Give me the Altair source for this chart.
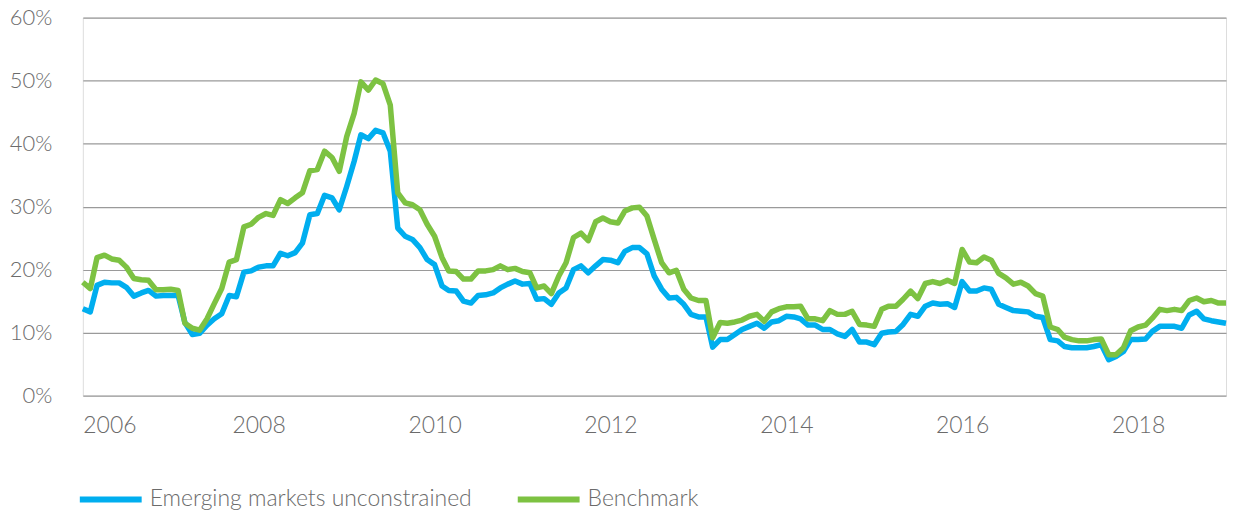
import altair as alt
import pandas as pd

series_names = ["Emerging markets unconstrained", "Benchmark"]
series_colors = ["#00AEEF", "#7DC242"]

start_month = "2006-01-01"
n_months = 157

emerging = [
    13.8, 13.3, 17.5, 18.0, 17.9, 17.9, 17.2, 15.8, 16.3, 16.7,
    15.8, 15.9, 15.9, 15.9, 11.6, 9.7, 9.9, 11.2, 12.2, 13.0,
    15.9, 15.7, 19.6, 19.8, 20.4, 20.6, 20.6, 22.6, 22.2, 22.7,
    24.2, 28.7, 28.9, 31.8, 31.4, 29.5, 33.2, 37.2, 41.4, 40.8,
    42.1, 41.7, 38.8, 26.6, 25.3, 24.8, 23.5, 21.6, 20.8, 17.4,
    16.7, 16.6, 15.0, 14.7, 15.9, 16.0, 16.3, 17.1, 17.7, 18.2,
    17.7, 17.8, 15.3, 15.4, 14.5, 16.3, 17.1, 20.0, 20.6, 19.5,
    20.6, 21.6, 21.5, 21.1, 22.9, 23.5, 23.5, 22.5, 19.0, 16.9,
    15.5, 15.6, 14.5, 12.9, 12.5, 12.5, 7.7, 8.9, 8.9, 9.7,
    10.5, 11.0, 11.5, 10.7, 11.7, 11.9, 12.6, 12.5, 12.2, 11.2,
    11.2, 10.5, 10.5, 9.8, 9.4, 10.5, 8.5, 8.5, 8.1, 9.9,
    10.1, 10.2, 11.3, 12.9, 12.6, 14.2, 14.7, 14.5, 14.6, 14.0,
    18.1, 16.6, 16.6, 17.1, 16.9, 14.5, 14.0, 13.5, 13.4, 13.3,
    12.6, 12.4, 8.9, 8.7, 7.8, 7.6, 7.6, 7.6, 7.8, 8.1,
    5.7, 6.2, 7.0, 8.9, 8.9, 9.0, 10.2, 11.0, 11.0, 11.0,
    10.7, 12.8, 13.4, 12.2, 11.9, 11.7, 11.5,
]

benchmark = [
    18.0, 17.0, 21.9, 22.3, 21.7, 21.5, 20.4, 18.6, 18.4, 18.3,
    16.8, 16.8, 16.9, 16.7, 11.5, 10.7, 10.4, 12.2, 14.6, 17.0,
    21.2, 21.6, 26.8, 27.2, 28.3, 28.9, 28.6, 31.1, 30.5, 31.4,
    32.2, 35.7, 35.9, 38.8, 37.8, 35.6, 41.1, 44.8, 49.8, 48.5,
    50.1, 49.5, 46.1, 32.2, 30.6, 30.3, 29.5, 27.2, 25.3, 21.9,
    19.8, 19.7, 18.5, 18.5, 19.8, 19.8, 20.0, 20.6, 20.0, 20.2,
    19.7, 19.5, 17.1, 17.4, 16.2, 19.0, 21.1, 25.1, 25.8, 24.6,
    27.6, 28.2, 27.6, 27.4, 29.3, 29.8, 29.9, 28.5, 24.8, 21.1,
    19.5, 19.9, 16.9, 15.5, 15.1, 15.1, 9.2, 11.6, 11.5, 11.7,
    12.0, 12.6, 12.9, 11.8, 13.3, 13.8, 14.1, 14.1, 14.2, 12.2,
    12.2, 11.9, 13.5, 12.9, 12.9, 13.4, 11.3, 11.2, 11.0, 13.7,
    14.2, 14.2, 15.3, 16.6, 15.4, 17.8, 18.1, 17.8, 18.3, 17.8,
    23.2, 21.2, 21.1, 22.0, 21.5, 19.4, 18.7, 17.7, 18.0, 17.4,
    16.2, 15.8, 10.9, 10.5, 9.3, 8.9, 8.7, 8.7, 8.9, 9.0,
    6.5, 6.5, 7.6, 10.3, 10.9, 11.2, 12.3, 13.7, 13.5, 13.7,
    13.5, 15.1, 15.5, 14.9, 15.1, 14.7, 14.7,
]

tick_years = ["2006-01-01", "2008-01-01", "2010-01-01", "2012-01-01",
              "2014-01-01", "2016-01-01", "2018-01-01"]
y_ticks = [0, 0.1, 0.2, 0.3, 0.4, 0.5, 0.6]

dates = pd.date_range(start_month, periods=n_months, freq="MS")
rows = []
for d, v in zip(dates, emerging):
    rows.append({"date": d, "value": v / 100, "series": series_names[0]})
for d, v in zip(dates, benchmark):
    rows.append({"date": d, "value": v / 100, "series": series_names[1]})
df = pd.DataFrame(rows)

FONT = "Lato"
LABEL_COLOR = "#6b6b6b"
FS = 22

x_enc = alt.X(
    "date:T",
    scale=alt.Scale(domain=[dates[0].isoformat(), dates[-1].isoformat()]),
    axis=alt.Axis(
        values=tick_years, format="%Y", title=None, grid=False, domain=False,
        ticks=False, labelFontSize=23, labelColor=LABEL_COLOR, labelFont=FONT,
        labelFontWeight=300, labelPadding=19, labelFlush=True,
    ),
)
y_enc = alt.Y(
    "value:Q",
    scale=alt.Scale(domain=[0, 0.6]),
    axis=alt.Axis(
        values=y_ticks, format=".0%", title=None, domain=False, ticks=False,
        gridColor="#9a9a9a", gridWidth=1.2, labelFontSize=FS,
        labelColor=LABEL_COLOR, labelFont=FONT, labelFontWeight=300,
        labelPadding=31, minExtent=75, maxExtent=75,
    ),
)
color_enc = alt.Color(
    "series:N",
    scale=alt.Scale(domain=series_names, range=series_colors),
    legend=alt.Legend(
        title=None, orient="none", legendX=-6, legendY=449, direction="horizontal",
        padding=0, symbolType="stroke", symbolSize=3844, symbolStrokeWidth=6,
        labelFontSize=23, labelColor=LABEL_COLOR, labelFont=FONT,
        labelFontWeight=300, columnPadding=34, labelOffset=5, labelLimit=500,
    ),
)

base = alt.Chart(df).mark_line(strokeWidth=5.5, strokeJoin="round").encode(
    x=x_enc, y=y_enc, color=color_enc
)
blue = base.transform_filter(alt.datum.series == series_names[0])
green = base.transform_filter(alt.datum.series == series_names[1])

chart = alt.layer(blue, green).properties(
    width=1146, height=379
).configure_view(stroke=None).configure(padding={"left": 0, "top": -2, "right": 0, "bottom": 0})

chart.save("out.html", embed_options={"renderer": "svg", "actions": False})
